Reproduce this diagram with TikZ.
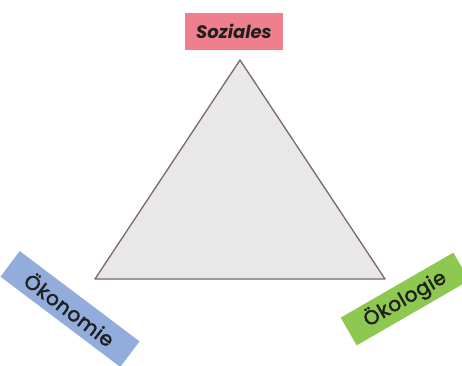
\documentclass[tikz,border=0pt]{standalone}
\usepackage{fontspec}
\setmainfont{Poppins}
\newfontfamily\lblfont{Poppins}[FakeBold=2, LetterSpace=3]
\begin{document}
\begin{tikzpicture}[x=1pt,y=-1pt,
  label box/.style={inner sep=0pt, minimum height=32pt, font=\fontsize{20}{20}\lblfont, text=black!88},
  tri/.style={draw=black!55!red!20!gray, line width=1.3pt, fill=gray!18, line join=round}]
\useasboundingbox (0,0) rectangle (462,365);
\fill[white] (0,0) rectangle (462,365);
\coordinate (top) at (240,60);
\coordinate (bl) at (95,279);
\coordinate (br) at (385,279);
\draw[tri] (top) -- (bl) -- (br) -- cycle;
\definecolor{pinkbox}{RGB}{238,128,142}
\definecolor{bluebox}{RGB}{146,172,220}
\definecolor{greenbox}{RGB}{142,200,80}
\node[label box, fill=pinkbox, minimum width=98pt, minimum height=37pt, font=\fontsize{18}{20}\selectfont\itshape\bfseries] (soz) at (234,31) {Soziales};
\node[label box, fill=bluebox, minimum width=150pt, rotate=-37] (oek) at (70,309) {Ökonomie};
\node[label box, fill=greenbox, minimum width=130pt, rotate=30] (oko) at (405,299) {Ökologie};
\end{tikzpicture}
\end{document}
